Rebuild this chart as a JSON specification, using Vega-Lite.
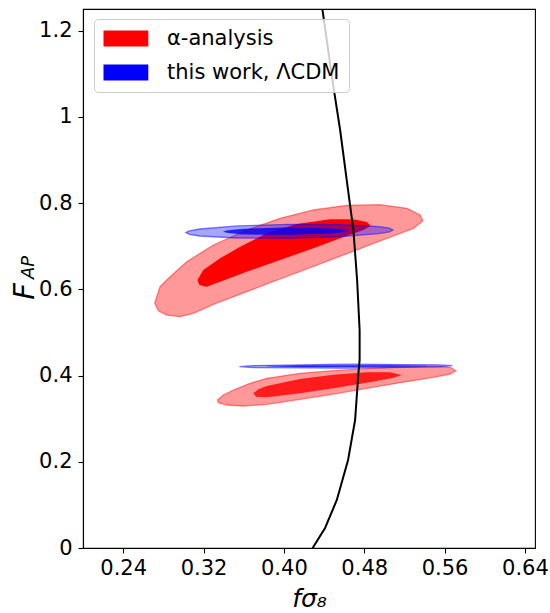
{
  "$schema": "https://vega.github.io/schema/vega-lite/v6.json",
  "width": 452,
  "height": 539,
  "autosize": {"type": "none"},
  "padding": {"left": 83, "top": 9, "right": 15, "bottom": 65},
  "background": "white",
  "config": {
    "view": {"stroke": "black", "strokeWidth": 1.1},
    "font": "DejaVu Sans",
    "axis": {"grid": false, "domainColor": "black", "tickColor": "black", "labelColor": "black", "titleColor": "black", "labelFont": "DejaVu Sans", "titleFont": "DejaVu Sans", "titleFontWeight": "normal", "labelFontSize": 21, "tickSize": 5, "tickWidth": 1.1, "domainWidth": 1.1, "labelFlush": false, "labelOverlap": false}
  },
  "datasets": {
    "contours": [
      {"contour": "ro1", "series": "α-analysis", "i": 1, "fs8": 0.2714, "fap": 0.5675},
      {"contour": "ro1", "series": "α-analysis", "i": 2, "fs8": 0.2767, "fap": 0.606},
      {"contour": "ro1", "series": "α-analysis", "i": 3, "fs8": 0.2867, "fap": 0.6292},
      {"contour": "ro1", "series": "α-analysis", "i": 4, "fs8": 0.3033, "fap": 0.664},
      {"contour": "ro1", "series": "α-analysis", "i": 5, "fs8": 0.3298, "fap": 0.7027},
      {"contour": "ro1", "series": "α-analysis", "i": 6, "fs8": 0.363, "fap": 0.7375},
      {"contour": "ro1", "series": "α-analysis", "i": 7, "fs8": 0.3962, "fap": 0.7646},
      {"contour": "ro1", "series": "α-analysis", "i": 8, "fs8": 0.4294, "fap": 0.7839},
      {"contour": "ro1", "series": "α-analysis", "i": 9, "fs8": 0.4627, "fap": 0.7948},
      {"contour": "ro1", "series": "α-analysis", "i": 10, "fs8": 0.4958, "fap": 0.7961},
      {"contour": "ro1", "series": "α-analysis", "i": 11, "fs8": 0.5224, "fap": 0.7878},
      {"contour": "ro1", "series": "α-analysis", "i": 12, "fs8": 0.5357, "fap": 0.7723},
      {"contour": "ro1", "series": "α-analysis", "i": 13, "fs8": 0.5383, "fap": 0.759},
      {"contour": "ro1", "series": "α-analysis", "i": 14, "fs8": 0.529, "fap": 0.7414},
      {"contour": "ro1", "series": "α-analysis", "i": 15, "fs8": 0.4958, "fap": 0.712},
      {"contour": "ro1", "series": "α-analysis", "i": 16, "fs8": 0.4627, "fap": 0.6825},
      {"contour": "ro1", "series": "α-analysis", "i": 17, "fs8": 0.4294, "fap": 0.6533},
      {"contour": "ro1", "series": "α-analysis", "i": 18, "fs8": 0.3962, "fap": 0.6238},
      {"contour": "ro1", "series": "α-analysis", "i": 19, "fs8": 0.363, "fap": 0.5944},
      {"contour": "ro1", "series": "α-analysis", "i": 20, "fs8": 0.3298, "fap": 0.5652},
      {"contour": "ro1", "series": "α-analysis", "i": 21, "fs8": 0.3099, "fap": 0.5443},
      {"contour": "ro1", "series": "α-analysis", "i": 22, "fs8": 0.2966, "fap": 0.5364},
      {"contour": "ro1", "series": "α-analysis", "i": 23, "fs8": 0.2834, "fap": 0.5403},
      {"contour": "ro1", "series": "α-analysis", "i": 24, "fs8": 0.275, "fap": 0.5503},

      {"contour": "ro2", "series": "α-analysis", "i": 1, "fs8": 0.3338, "fap": 0.3432},
      {"contour": "ro2", "series": "α-analysis", "i": 2, "fs8": 0.3397, "fap": 0.3548},
      {"contour": "ro2", "series": "α-analysis", "i": 3, "fs8": 0.3497, "fap": 0.3664},
      {"contour": "ro2", "series": "α-analysis", "i": 4, "fs8": 0.3663, "fap": 0.382},
      {"contour": "ro2", "series": "α-analysis", "i": 5, "fs8": 0.383, "fap": 0.3935},
      {"contour": "ro2", "series": "α-analysis", "i": 6, "fs8": 0.4161, "fap": 0.4052},
      {"contour": "ro2", "series": "α-analysis", "i": 7, "fs8": 0.4493, "fap": 0.4112},
      {"contour": "ro2", "series": "α-analysis", "i": 8, "fs8": 0.4826, "fap": 0.4158},
      {"contour": "ro2", "series": "α-analysis", "i": 9, "fs8": 0.5157, "fap": 0.4198},
      {"contour": "ro2", "series": "α-analysis", "i": 10, "fs8": 0.5489, "fap": 0.4214},
      {"contour": "ro2", "series": "α-analysis", "i": 11, "fs8": 0.5655, "fap": 0.4191},
      {"contour": "ro2", "series": "α-analysis", "i": 12, "fs8": 0.5712, "fap": 0.4112},
      {"contour": "ro2", "series": "α-analysis", "i": 13, "fs8": 0.5655, "fap": 0.4035},
      {"contour": "ro2", "series": "α-analysis", "i": 14, "fs8": 0.5489, "fap": 0.3959},
      {"contour": "ro2", "series": "α-analysis", "i": 15, "fs8": 0.5157, "fap": 0.3833},
      {"contour": "ro2", "series": "α-analysis", "i": 16, "fs8": 0.4826, "fap": 0.3704},
      {"contour": "ro2", "series": "α-analysis", "i": 17, "fs8": 0.4493, "fap": 0.3571},
      {"contour": "ro2", "series": "α-analysis", "i": 18, "fs8": 0.4161, "fap": 0.3448},
      {"contour": "ro2", "series": "α-analysis", "i": 19, "fs8": 0.383, "fap": 0.3333},
      {"contour": "ro2", "series": "α-analysis", "i": 20, "fs8": 0.3597, "fap": 0.3293},
      {"contour": "ro2", "series": "α-analysis", "i": 21, "fs8": 0.3431, "fap": 0.3316},
      {"contour": "ro2", "series": "α-analysis", "i": 22, "fs8": 0.3348, "fap": 0.337},

      {"contour": "ri1", "series": "α-analysis", "i": 1, "fs8": 0.3139, "fap": 0.6215},
      {"contour": "ri1", "series": "α-analysis", "i": 2, "fs8": 0.3198, "fap": 0.6447},
      {"contour": "ri1", "series": "α-analysis", "i": 3, "fs8": 0.3365, "fap": 0.6718},
      {"contour": "ri1", "series": "α-analysis", "i": 4, "fs8": 0.3564, "fap": 0.6987},
      {"contour": "ri1", "series": "α-analysis", "i": 5, "fs8": 0.383, "fap": 0.7298},
      {"contour": "ri1", "series": "α-analysis", "i": 6, "fs8": 0.4128, "fap": 0.7514},
      {"contour": "ri1", "series": "α-analysis", "i": 7, "fs8": 0.446, "fap": 0.7623},
      {"contour": "ri1", "series": "α-analysis", "i": 8, "fs8": 0.4692, "fap": 0.7623},
      {"contour": "ri1", "series": "α-analysis", "i": 9, "fs8": 0.4826, "fap": 0.756},
      {"contour": "ri1", "series": "α-analysis", "i": 10, "fs8": 0.4865, "fap": 0.7475},
      {"contour": "ri1", "series": "α-analysis", "i": 11, "fs8": 0.4792, "fap": 0.7375},
      {"contour": "ri1", "series": "α-analysis", "i": 12, "fs8": 0.456, "fap": 0.7182},
      {"contour": "ri1", "series": "α-analysis", "i": 13, "fs8": 0.4294, "fap": 0.695},
      {"contour": "ri1", "series": "α-analysis", "i": 14, "fs8": 0.3962, "fap": 0.6679},
      {"contour": "ri1", "series": "α-analysis", "i": 15, "fs8": 0.363, "fap": 0.6408},
      {"contour": "ri1", "series": "α-analysis", "i": 16, "fs8": 0.3365, "fap": 0.6176},
      {"contour": "ri1", "series": "α-analysis", "i": 17, "fs8": 0.3232, "fap": 0.606},
      {"contour": "ri1", "series": "α-analysis", "i": 18, "fs8": 0.3158, "fap": 0.6099},

      {"contour": "ri2", "series": "α-analysis", "i": 1, "fs8": 0.3696, "fap": 0.3588},
      {"contour": "ri2", "series": "α-analysis", "i": 2, "fs8": 0.3746, "fap": 0.368},
      {"contour": "ri2", "series": "α-analysis", "i": 3, "fs8": 0.383, "fap": 0.3757},
      {"contour": "ri2", "series": "α-analysis", "i": 4, "fs8": 0.4161, "fap": 0.3919},
      {"contour": "ri2", "series": "α-analysis", "i": 5, "fs8": 0.4493, "fap": 0.4019},
      {"contour": "ri2", "series": "α-analysis", "i": 6, "fs8": 0.4826, "fap": 0.4075},
      {"contour": "ri2", "series": "α-analysis", "i": 7, "fs8": 0.5058, "fap": 0.4075},
      {"contour": "ri2", "series": "α-analysis", "i": 8, "fs8": 0.5174, "fap": 0.4012},
      {"contour": "ri2", "series": "α-analysis", "i": 9, "fs8": 0.5091, "fap": 0.3949},
      {"contour": "ri2", "series": "α-analysis", "i": 10, "fs8": 0.4826, "fap": 0.3834},
      {"contour": "ri2", "series": "α-analysis", "i": 11, "fs8": 0.4493, "fap": 0.3704},
      {"contour": "ri2", "series": "α-analysis", "i": 12, "fs8": 0.4161, "fap": 0.3588},
      {"contour": "ri2", "series": "α-analysis", "i": 13, "fs8": 0.383, "fap": 0.3495},
      {"contour": "ri2", "series": "α-analysis", "i": 14, "fs8": 0.3723, "fap": 0.3509},

      {"contour": "bo1", "series": "this work, ΛCDM", "i": 1, "fs8": 0.5086, "fap": 0.7375},
      {"contour": "bo1", "series": "this work, ΛCDM", "i": 2, "fs8": 0.5051, "fap": 0.7416},
      {"contour": "bo1", "series": "this work, ΛCDM", "i": 3, "fs8": 0.4947, "fap": 0.7454},
      {"contour": "bo1", "series": "this work, ΛCDM", "i": 4, "fs8": 0.457, "fap": 0.75},
      {"contour": "bo1", "series": "this work, ΛCDM", "i": 5, "fs8": 0.4055, "fap": 0.7507},
      {"contour": "bo1", "series": "this work, ΛCDM", "i": 6, "fs8": 0.3539, "fap": 0.747},
      {"contour": "bo1", "series": "this work, ΛCDM", "i": 7, "fs8": 0.3162, "fap": 0.7398},
      {"contour": "bo1", "series": "this work, ΛCDM", "i": 8, "fs8": 0.3059, "fap": 0.7356},
      {"contour": "bo1", "series": "this work, ΛCDM", "i": 9, "fs8": 0.3024, "fap": 0.7315},
      {"contour": "bo1", "series": "this work, ΛCDM", "i": 10, "fs8": 0.3059, "fap": 0.7273},
      {"contour": "bo1", "series": "this work, ΛCDM", "i": 11, "fs8": 0.3162, "fap": 0.7236},
      {"contour": "bo1", "series": "this work, ΛCDM", "i": 12, "fs8": 0.3539, "fap": 0.7189},
      {"contour": "bo1", "series": "this work, ΛCDM", "i": 13, "fs8": 0.4055, "fap": 0.7182},
      {"contour": "bo1", "series": "this work, ΛCDM", "i": 14, "fs8": 0.457, "fap": 0.7219},
      {"contour": "bo1", "series": "this work, ΛCDM", "i": 15, "fs8": 0.4947, "fap": 0.7291},
      {"contour": "bo1", "series": "this work, ΛCDM", "i": 16, "fs8": 0.5051, "fap": 0.7333},

      {"contour": "bo2", "series": "this work, ΛCDM", "i": 1, "fs8": 0.5678, "fap": 0.4228},
      {"contour": "bo2", "series": "this work, ΛCDM", "i": 2, "fs8": 0.5536, "fap": 0.4249},
      {"contour": "bo2", "series": "this work, ΛCDM", "i": 3, "fs8": 0.4618, "fap": 0.4263},
      {"contour": "bo2", "series": "this work, ΛCDM", "i": 4, "fs8": 0.3699, "fap": 0.423},
      {"contour": "bo2", "series": "this work, ΛCDM", "i": 5, "fs8": 0.3557, "fap": 0.4205},
      {"contour": "bo2", "series": "this work, ΛCDM", "i": 6, "fs8": 0.3699, "fap": 0.4184},
      {"contour": "bo2", "series": "this work, ΛCDM", "i": 7, "fs8": 0.4618, "fap": 0.417},
      {"contour": "bo2", "series": "this work, ΛCDM", "i": 8, "fs8": 0.5536, "fap": 0.4202},

      {"contour": "bi1", "series": "this work, ΛCDM", "i": 1, "fs8": 0.4642, "fap": 0.7356},
      {"contour": "bi1", "series": "this work, ΛCDM", "i": 2, "fs8": 0.4605, "fap": 0.7384},
      {"contour": "bi1", "series": "this work, ΛCDM", "i": 3, "fs8": 0.446, "fap": 0.7412},
      {"contour": "bi1", "series": "this work, ΛCDM", "i": 4, "fs8": 0.402, "fap": 0.743},
      {"contour": "bi1", "series": "this work, ΛCDM", "i": 5, "fs8": 0.358, "fap": 0.74},
      {"contour": "bi1", "series": "this work, ΛCDM", "i": 6, "fs8": 0.3435, "fap": 0.7365},
      {"contour": "bi1", "series": "this work, ΛCDM", "i": 7, "fs8": 0.3397, "fap": 0.7338},
      {"contour": "bi1", "series": "this work, ΛCDM", "i": 8, "fs8": 0.3435, "fap": 0.731},
      {"contour": "bi1", "series": "this work, ΛCDM", "i": 9, "fs8": 0.358, "fap": 0.7275},
      {"contour": "bi1", "series": "this work, ΛCDM", "i": 10, "fs8": 0.402, "fap": 0.7263},
      {"contour": "bi1", "series": "this work, ΛCDM", "i": 11, "fs8": 0.446, "fap": 0.7296},
      {"contour": "bi1", "series": "this work, ΛCDM", "i": 12, "fs8": 0.4605, "fap": 0.7328},

      {"contour": "bi2", "series": "this work, ΛCDM", "i": 1, "fs8": 0.5423, "fap": 0.4221},
      {"contour": "bi2", "series": "this work, ΛCDM", "i": 2, "fs8": 0.5058, "fap": 0.4239},
      {"contour": "bi2", "series": "this work, ΛCDM", "i": 3, "fs8": 0.4161, "fap": 0.4235},
      {"contour": "bi2", "series": "this work, ΛCDM", "i": 4, "fs8": 0.383, "fap": 0.4214},
      {"contour": "bi2", "series": "this work, ΛCDM", "i": 5, "fs8": 0.4161, "fap": 0.42},
      {"contour": "bi2", "series": "this work, ΛCDM", "i": 6, "fs8": 0.5058, "fap": 0.4205}
    ],
    "curve": [
      {"i": 1, "fs8": 0.4383, "fap": 1.25},
      {"i": 2, "fs8": 0.4493, "fap": 1.0698},
      {"i": 3, "fs8": 0.456, "fap": 0.9694},
      {"i": 4, "fs8": 0.4652, "fap": 0.807},
      {"i": 5, "fs8": 0.4692, "fap": 0.7375},
      {"i": 6, "fs8": 0.4729, "fap": 0.6215},
      {"i": 7, "fs8": 0.4754, "fap": 0.5056},
      {"i": 8, "fs8": 0.4754, "fap": 0.436},
      {"i": 9, "fs8": 0.4742, "fap": 0.4058},
      {"i": 10, "fs8": 0.4709, "fap": 0.2968},
      {"i": 11, "fs8": 0.4639, "fap": 0.2041},
      {"i": 12, "fs8": 0.4527, "fap": 0.1113},
      {"i": 13, "fs8": 0.441, "fap": 0.0464},
      {"i": 14, "fs8": 0.4286, "fap": 0}
    ],
    "subscript": [{"label": "AP"}]
  },
  "layer": [
    {
      "data": {"name": "contours"},
      "transform": [{"filter": "datum.contour === 'ro1' || datum.contour === 'ro2'"}],
      "mark": {"type": "line", "filled": true, "interpolate": "linear-closed", "fillOpacity": 0.4, "stroke": "red", "strokeOpacity": 0.45, "strokeWidth": 1.3},
      "encoding": {
        "x": {
          "field": "fs8", "type": "quantitative",
          "scale": {"domain": [0.2, 0.65], "nice": false, "zero": false},
          "axis": {
            "values": [0.24, 0.32, 0.40, 0.48, 0.56, 0.64], "format": ".2f",
            "labelBaseline": "alphabetic", "labelPadding": 21,
            "title": "fσ₈", "titleFontSize": 25, "titleFontStyle": "italic",
            "titleBaseline": "alphabetic", "titleX": 226, "titleY": 58, "titleAlign": "center"
          }
        },
        "y": {
          "field": "fap", "type": "quantitative",
          "scale": {"domain": [0, 1.25], "nice": false, "zero": false},
          "axis": {
            "values": [0, 0.2, 0.4, 0.6, 0.8, 1, 1.2], "format": "~g",
            "labelPadding": 6, "labelBaseline": "middle",
            "title": "F", "titleFontSize": 29, "titleFontStyle": "italic", "titleAngle": 270,
            "titleBaseline": "alphabetic", "titleX": -50, "titleY": 282, "titleAlign": "center"
          }
        },
        "order": {"field": "i", "type": "quantitative"},
        "detail": {"field": "contour"},
        "color": {
          "field": "series", "type": "nominal",
          "scale": {"domain": ["α-analysis", "this work, ΛCDM"], "range": ["#ff0000", "#0000ff"]},
          "legend": {
            "title": null, "orient": "none", "legendX": 11, "legendY": 10,
            "padding": 9, "rowPadding": 12, "labelOffset": 43, "labelLimit": 0,
            "labelFontSize": 21, "labelFont": "DejaVu Sans", "labelColor": "black",
            "symbolType": "M-1.25,-1L4.35,-1L4.35,1L-1.25,1Z", "symbolSize": 256,
            "symbolStrokeWidth": 0, "symbolOpacity": 1,
            "fillColor": "rgba(255,255,255,0.8)", "strokeColor": "#cccccc", "cornerRadius": 4,
            "encode": {"symbols": {"update": {"fill": {"scale": "color", "field": "value"}, "fillOpacity": {"value": 1}, "opacity": {"value": 1}, "strokeWidth": {"value": 0}}}}
          }
        }
      }
    },
    {
      "data": {"name": "contours"},
      "transform": [{"filter": "datum.contour === 'ri1'"}],
      "mark": {"type": "line", "filled": true, "interpolate": "linear-closed", "fillOpacity": 1, "strokeWidth": 0},
      "encoding": {
        "x": {"field": "fs8", "type": "quantitative"},
        "y": {"field": "fap", "type": "quantitative"},
        "order": {"field": "i", "type": "quantitative"},
        "color": {"field": "series", "type": "nominal"}
      }
    },
    {
      "data": {"name": "contours"},
      "transform": [{"filter": "datum.contour === 'ri2'"}],
      "mark": {"type": "line", "filled": true, "interpolate": "linear-closed", "fillOpacity": 0.82, "strokeWidth": 0},
      "encoding": {
        "x": {"field": "fs8", "type": "quantitative"},
        "y": {"field": "fap", "type": "quantitative"},
        "order": {"field": "i", "type": "quantitative"},
        "color": {"field": "series", "type": "nominal"}
      }
    },
    {
      "data": {"name": "contours"},
      "transform": [{"filter": "datum.contour === 'bo1' || datum.contour === 'bo2'"}],
      "mark": {"type": "line", "filled": true, "interpolate": "linear-closed", "fillOpacity": 0.35, "stroke": "blue", "strokeOpacity": 0.5, "strokeWidth": 1.3},
      "encoding": {
        "x": {"field": "fs8", "type": "quantitative"},
        "y": {"field": "fap", "type": "quantitative"},
        "order": {"field": "i", "type": "quantitative"},
        "detail": {"field": "contour"},
        "color": {"field": "series", "type": "nominal"}
      }
    },
    {
      "data": {"name": "contours"},
      "transform": [{"filter": "datum.contour === 'bi1' || datum.contour === 'bi2'"}],
      "mark": {"type": "line", "filled": true, "interpolate": "linear-closed", "fillOpacity": 0.8, "stroke": "blue", "strokeOpacity": 0.3, "strokeWidth": 0.6},
      "encoding": {
        "x": {"field": "fs8", "type": "quantitative"},
        "y": {"field": "fap", "type": "quantitative"},
        "order": {"field": "i", "type": "quantitative"},
        "detail": {"field": "contour"},
        "color": {"field": "series", "type": "nominal"}
      }
    },
    {
      "data": {"name": "curve"},
      "mark": {"type": "line", "color": "black", "strokeWidth": 2, "clip": true},
      "encoding": {
        "x": {"field": "fs8", "type": "quantitative"},
        "y": {"field": "fap", "type": "quantitative"},
        "order": {"field": "i", "type": "quantitative"}
      }
    },
    {
      "data": {"name": "subscript"},
      "mark": {"type": "text", "angle": 270, "fontSize": 18, "fontStyle": "italic", "font": "DejaVu Sans", "align": "center", "baseline": "alphabetic", "color": "black"},
      "encoding": {
        "x": {"datum": 0.1512},
        "y": {"datum": 0.6505},
        "text": {"field": "label", "type": "nominal"}
      }
    }
  ]
}
